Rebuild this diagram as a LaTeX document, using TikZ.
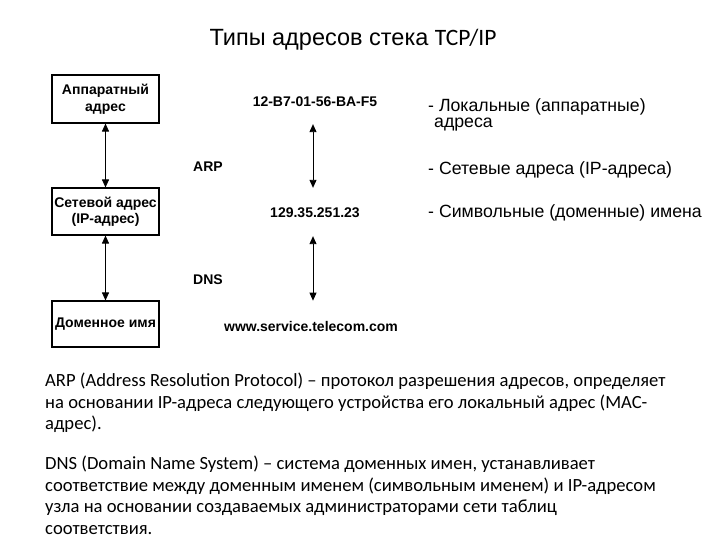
\documentclass[tikz,border=0pt]{standalone}
\usepackage{fontspec}
\setmainfont{Liberation Sans}
\newfontfamily\calibri{Carlito}
\usetikzlibrary{arrows.meta}

\begin{document}
\begin{tikzpicture}[x=1pt,y=-1pt]
\tikzstyle{addrbox} = [draw, line width=1.1pt, minimum width=107pt, inner sep=2pt, align=center, font=\fontsize{14}{16.5}\selectfont\bfseries]
\tikzstyle{addr} = [inner sep=0pt, font=\fontsize{14}{16.5}\selectfont\bfseries]
\tikzstyle{twoway} = [line width=0.9pt, {Triangle[length=8pt,width=7pt]}-{Triangle[length=8pt,width=7pt]}]
\tikzstyle{item} = [anchor=west, inner sep=0pt, font=\fontsize{17.7}{20}\selectfont]
\tikzstyle{para} = [anchor=north west, inner sep=0pt, align=left, font=\calibri\fontsize{18.6}{21.4}\selectfont]
\useasboundingbox (0,0) rectangle (720,540);
\node (title) at (353,40) {\fontsize{23.5}{27}\selectfont Типы адресов стека {\calibri TCP/IP}};
% left column
\node[addrbox, minimum height=48pt] (hw) at (105.5,99) {Аппаратный\\адрес};
\node[addrbox, minimum height=47pt] (net) at (105.5,211.5) {Сетевой адрес\\(IP-адрес)};
\node[addrbox, minimum height=46pt] (dom) at (105.5,324) {Доменное имя};
\draw[twoway] (hw.south) -- (net.north);
\draw[twoway] (net.south) -- (dom.north);
% example values
\node[addr] (mac) at (315,102) {12-B7-01-56-BA-F5};
\node[addr] (ip) at (315,213) {129.35.251.23};
\node[addr] (url) at (311,326) {www.service.telecom.com};
\node[addr] (arp) at (208,167) {ARP};
\node[addr] (dns) at (208,280) {DNS};
\draw[twoway, shorten <=17pt, shorten >=20pt] (mac.south -| 313,0) -- (ip.north -| 313,0);
\draw[twoway, shorten <=18pt, shorten >=20pt] (ip.south -| 313,0) -- (url.north -| 313,0);
% list
\node[item] (loc) at (428,107) {- Локальные (аппаратные)};
\node[item] (loc2) at (434,125) {адреса};
\node[item] (ipa) at (428,170) {- Сетевые адреса (IP-адреса)};
\node[item] (sym) at (428,213) {- Символьные (доменные) имена};
% notes
\node[para] (arpnote) at (45,373) {ARP (Address Resolution Protocol) – протокол разрешения адресов, определяет\\на основании IP-адреса следующего устройства его локальный адрес (MAC-\\адрес).};
\node[para] (dnsnote) at (45,456) {DNS (Domain Name System) – система доменных имен, устанавливает\\соответствие между доменным именем (символьным именем) и IP-адресом\\узла на основании создаваемых администраторами сети таблиц\\соответствия.};
\end{tikzpicture}
\end{document}
